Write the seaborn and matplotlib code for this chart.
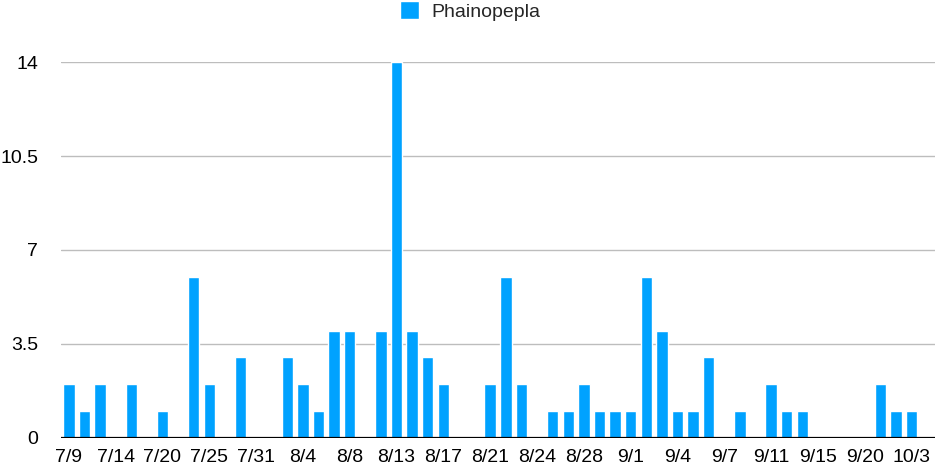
import numpy as np
import pandas as pd
import matplotlib
matplotlib.use("Agg")
import matplotlib.pyplot as plt
import seaborn as sns

# =========================
# DATA
# =========================

# one bar per observation date (55 dates), only every 3rd date is labelled
counts = [2, 1, 2, 0, 2, 0, 1, 0, 6, 2, 0, 3, 0, 0, 3, 2, 1, 4, 4, 0,
          4, 14, 4, 3, 2, 0, 0, 2, 6, 2, 0, 1, 1, 2, 1, 1, 1, 6, 4, 1,
          1, 3, 0, 1, 0, 2, 1, 1, 0, 0, 0, 0, 2, 1, 1]
tick_labels = ["7/9", "7/14", "7/20", "7/25", "7/31", "8/4", "8/8", "8/13",
               "8/17", "8/21", "8/24", "8/28", "9/1", "9/4", "9/7", "9/11",
               "9/15", "9/20", "10/3"]
y_ticks = [0, 3.5, 7, 10.5, 14]
series_name = "Phainopepla"

df = pd.DataFrame({"date": np.arange(len(counts)), "count": counts})

# =========================
# STYLE
# =========================

sns.set_style("white")
plt.rcParams["font.family"] = ["Liberation Sans", "DejaVu Sans"]

bar_color = "#00A2FF"
font_size = 14

fig = plt.figure(figsize=(9.36, 4.70), dpi=100)
ax = fig.add_axes([61 / 936, 1 - 438 / 470, 874 / 936, 376 / 470])

sns.barplot(data=df, x="date", y="count", color=bar_color, width=0.73,
            saturation=1, ax=ax, label=series_name, zorder=3)

# =========================
# AXES
# =========================

ax.set_xlim(-0.5, len(counts) + 0.5)
ax.set_ylim(0, 14)
ax.set_yticks(y_ticks)
ax.set_yticklabels(["0", "3.5", "7", "10.5", "14"])
ax.set_xticks(np.arange(0, len(counts), 3))
ax.set_xticklabels(tick_labels)
ax.tick_params(axis="both", length=0, labelsize=font_size, colors="black")
ax.tick_params(axis="y", pad=16.5)
ax.tick_params(axis="x", pad=8)
ax.set_xlabel("")
ax.set_ylabel("")

ax.yaxis.grid(True, color="#BDBDBD", linewidth=1.0, zorder=0)
ax.xaxis.grid(False)
for s in ax.spines.values():
    s.set_visible(False)
ax.axhline(0, color="black", linewidth=1.6, zorder=4)

# =========================
# LEGEND
# =========================

ax.legend(loc="center", bbox_to_anchor=(0.502, 1 - 11 / 470),
          bbox_transform=fig.transFigure, frameon=False, fontsize=font_size,
          handlelength=1.0, handleheight=1.0, handletextpad=0.6,
          borderaxespad=0)

plt.savefig("out.png", dpi=100)
